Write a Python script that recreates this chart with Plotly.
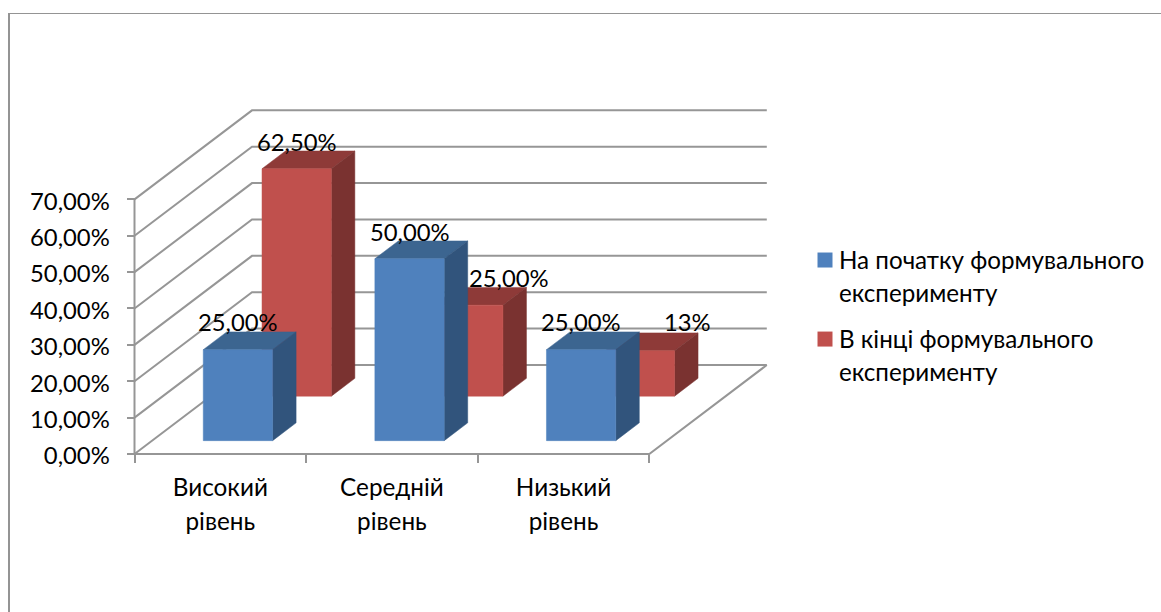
import plotly.graph_objects as go

# ---- data ----
categories = ["Високий<br>рівень", "Середній<br>рівень", "Низький<br>рівень"]
series_names = ["На початку формувального<br>експерименту", "В кінці формувального<br>експерименту"]
start_values = [25.0, 50.0, 25.0]
end_values = [62.5, 25.0, 12.5]
start_labels = ["25,00%", "50,00%", "25,00%"]
end_labels = ["62,50%", "25,00%", "13%"]
y_ticks = [0, 10, 20, 30, 40, 50, 60, 70]
y_tick_labels = ["0,00%", "10,00%", "20,00%", "30,00%", "40,00%", "50,00%", "60,00%", "70,00%"]

# ---- style / geometry ----
W, H = 1161, 612
X0_PX, CAT_PX = 134.5, 171.6      # px of category 0, px per category
Y0_PX, VAL_PX = 454.0, 3.638      # px of value 0, px per percent
DEPTH_X, DEPTH_Y = 117.5 / CAT_PX, 89 / VAL_PX   # oblique shift of the full floor depth
BAR_X = (0.298, 0.702)
DEPTH_BANDS = [(0.15, 0.35), (0.65, 0.85)]
GRID = "#969696"
FONT = "Lato, 'Open Sans', sans-serif"
FS = 23.8
COLORS = [
    dict(front="#4F81BD", top="#3C6590", side="#31547C"),
    dict(front="#C0504D", top="#8E3A38", side="#7A3230"),
]
# manual label offsets in px (dx, dy up)
START_OFF = [(0, 28), (0, 27), (0, 28)]
END_OFF = [(0, 27), (41, 27), (48, 29)]


def sized(text, px):
    return "<br>".join(f'<span style="font-size:{px}px">{p}</span>' for p in text.split("<br>"))


def proj(x, d, v):
    return x + d * DEPTH_X, v + d * DEPTH_Y


def poly(points, color, name=None):
    xs, ys = zip(*[proj(*p) for p in points])
    return go.Scatter(x=list(xs) + [xs[0]], y=list(ys) + [ys[0]], mode="lines", fill="toself",
                      fillcolor=color, line=dict(color=color, width=0.5),
                      hoverinfo="skip", showlegend=False)


def line(points):
    xs, ys = zip(*[proj(*p) for p in points])
    return go.Scatter(x=list(xs), y=list(ys), mode="lines", line=dict(color=GRID, width=2),
                      hoverinfo="skip", showlegend=False)


fig = go.Figure()
# walls and floor
for t in y_ticks:
    fig.add_trace(line([(0, 0, t), (0, 1, t), (len(categories), 1, t)]))
fig.add_trace(line([(0, 0, 0), (0, 0, y_ticks[-1])]))
fig.add_trace(line([(0, 0, 0), (len(categories), 0, 0), (len(categories), 1, 0)]))

# bars, back series first
annotations = []
for s, (vals, labels, offs) in reversed(list(enumerate([(start_values, start_labels, START_OFF),
                                                        (end_values, end_labels, END_OFF)]))):
    c = COLORS[s]
    d0, d1 = DEPTH_BANDS[s]
    for i, v in enumerate(vals):
        x0, x1 = i + BAR_X[0], i + BAR_X[1]
        fig.add_trace(poly([(x0, d0, v), (x1, d0, v), (x1, d1, v), (x0, d1, v)], c["top"]))
        fig.add_trace(poly([(x1, d0, 0), (x1, d1, 0), (x1, d1, v), (x1, d0, v)], c["side"]))
        fig.add_trace(poly([(x0, d0, 0), (x1, d0, 0), (x1, d0, v), (x0, d0, v)], c["front"]))
        ax, ay = proj((x0 + x1) / 2, d0, v)
        annotations.append(dict(x=ax, y=ay, xref="x", yref="y", text=labels[i], showarrow=False,
                                xanchor="center", yanchor="middle", xshift=offs[i][0], yshift=offs[i][1],
                                font=dict(family=FONT, size=FS, color="#000000")))

# legend entries
for s, name in enumerate(series_names):
    fig.add_trace(go.Scatter(x=[None], y=[None], mode="markers", name=sized(name, 24.2), legendgroup=str(s),
                             marker=dict(symbol="square", size=15, color=COLORS[s]["front"])))

fig.update_layout(
    width=W, height=H, margin=dict(l=0, r=0, t=0, b=0),
    paper_bgcolor="white", plot_bgcolor="white",
    font=dict(family=FONT, size=FS, color="#000000"),
    annotations=annotations,
    showlegend=True,
    legend=dict(x=799 / W, y=1 - 236 / H, xanchor="left", yanchor="top", tracegroupgap=10,
                bgcolor="rgba(0,0,0,0)", font=dict(family=FONT, size=25.4), itemclick=False, itemdoubleclick=False),
    xaxis=dict(range=[-X0_PX / CAT_PX, (W - X0_PX) / CAT_PX], anchor="free", position=(H - Y0_PX) / H,
               showgrid=False, zeroline=False, showline=False,
               tickmode="array", tickvals=[i + 0.5 for i in range(len(categories))],
               ticktext=[sized(c, 24.3) for c in categories],
               tickfont=dict(family=FONT, size=26),
               ticks="", ticklabelstandoff=15,
               minor=dict(tickmode="array", tickvals=list(range(len(categories) + 1)), ticks="outside",
                          ticklen=8, tickwidth=2, tickcolor=GRID, showgrid=False)),
    yaxis=dict(range=[-(H - Y0_PX) / VAL_PX, Y0_PX / VAL_PX], anchor="free", position=X0_PX / W,
               showgrid=False, zeroline=False, showline=False,
               tickmode="array", tickvals=y_ticks, ticktext=y_tick_labels,
               ticks="outside", ticklen=8, tickwidth=2, tickcolor=GRID,
               ticklabelstandoff=12, ticklabelshift=2),
    shapes=[
        dict(type="line", xref="paper", yref="paper", x0=9 / W, x1=9 / W, y0=0, y1=1 - 13 / H,
             line=dict(color="#949494", width=2)),
        dict(type="line", xref="paper", yref="paper", x0=8 / W, x1=1, y0=1 - 13.5 / H, y1=1 - 13.5 / H,
             line=dict(color="#949494", width=1.2)),
    ],
)

# the reference draws each legend swatch beside the first text line, closer to the text
post = """
document.body.style.margin='0';
(function(){
  var gd=document.getElementById('{plot_id}');
  function nudge(){gd.querySelectorAll('.legend .traces .legendsymbols').forEach(function(n){
    n.setAttribute('transform','translate(6,-15.5)');});}
  nudge(); gd.on('plotly_afterplot',nudge);
})();
"""
fig.write_html("out.html", post_script=post, config=dict(displayModeBar=False))
